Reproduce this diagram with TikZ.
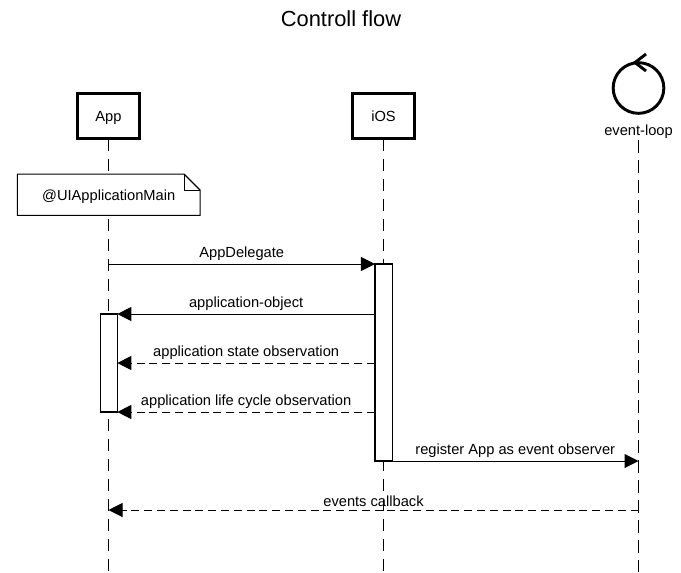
\documentclass[tikz,border=0pt]{standalone}
\usepackage{fontspec}
\setmainfont{Liberation Sans}
\usetikzlibrary{arrows.meta,calc}

\begin{document}
\begin{tikzpicture}[
    x=0.75pt, y=-0.75pt,
    actor/.style={draw, line width=2.2pt, rectangle, fill=white, minimum width=46pt, minimum height=34pt, outer sep=0pt, text depth=0pt, font=\fontsize{11}{13}\selectfont},
    loopnode/.style={draw, line width=2.2pt, circle, minimum size=38pt, inner sep=0pt, outer sep=0pt},
    lifeline/.style={line width=0.8pt, dash pattern=on 9.4pt off 5.6pt},
    activation/.style={draw, line width=0.8pt, rectangle, fill=white, minimum width=12.8pt, outer sep=0pt},
    notebox/.style={rectangle, fill=white, minimum width=137pt, minimum height=31pt, outer sep=0pt, text depth=0pt, font=\fontsize{11}{13}\selectfont},
    msg/.style={-{Triangle[length=10.5pt,width=10.5pt]}, line width=0.75pt},
    reply/.style={msg, dash pattern=on 6pt off 3.6pt},
    lbl/.style={above, inner sep=0pt, yshift=2.4pt, font=\fontsize{11}{13}\selectfont}
]

\useasboundingbox (0,0) rectangle (681,572);

% Title
\node[font=\fontsize{16.4}{20}\selectfont] (title) at (341,19) {Controll flow};

% Participants
\node[actor] (app) at (108.5,116) {App};
\node[actor] (ios) at (383.5,116) {iOS};
\node[loopnode] (loop) at (638.5,88) {};
\draw[line width=2.2pt] (646,54) -- (635,62.5) -- (646,71);
\node[font=\fontsize{11}{13}\selectfont, inner sep=0pt, text depth=0pt] (loopLabel) at (638.5,130) {event-loop};

% Lifelines
\coordinate (appEnd) at (108.5,572);
\coordinate (iosEnd) at (383.5,572);
\coordinate (loopTop) at (638.5,140);
\coordinate (loopEnd) at (638.5,572);
\draw[lifeline] (app.south) -- (appEnd);
\draw[lifeline] (ios.south) -- (iosEnd);
\draw[lifeline] (loopTop) -- (loopEnd);

% Note
\node[notebox] (note) at (108.7,194.7) {@UIApplicationMain};
\draw[line width=0.8pt] (note.north west) -- ($(note.north east)+(-16,0)$) -- ($(note.north east)+(0,16)$) -- (note.south east) -- (note.south west) -- cycle;
\draw[line width=0.8pt] ($(note.north east)+(-16,0)$) -- ($(note.north east)+(-16,16)$) -- ($(note.north east)+(0,16)$);

% Activations
\node[activation, minimum height=147.75pt] (iosAct) at (383.5,362.5) {};
\node[activation, minimum height=73.5pt] (appAct) at (108.8,363) {};

% Messages
\coordinate (appCb) at (108.5,510);
\coordinate (loopCb) at (638.5,510);
\draw[msg] (app |- iosAct.north) -- node[lbl] {AppDelegate} (iosAct.north west);
\draw[msg] (iosAct.west |- appAct.north) -- node[lbl] {application-object} (appAct.north east);
\draw[reply] (iosAct.west |- appAct.east) -- node[lbl] {application state observation} (appAct.east);
\draw[reply] (iosAct.west |- appAct.south) -- node[lbl] {application life cycle observation} (appAct.south east);
\draw[msg] (iosAct.south east) -- node[lbl] {register App as event observer} (loopLabel |- iosAct.south);
\draw[reply] (loopCb) -- node[lbl] {events callback} (appCb);

\end{tikzpicture}
\end{document}
